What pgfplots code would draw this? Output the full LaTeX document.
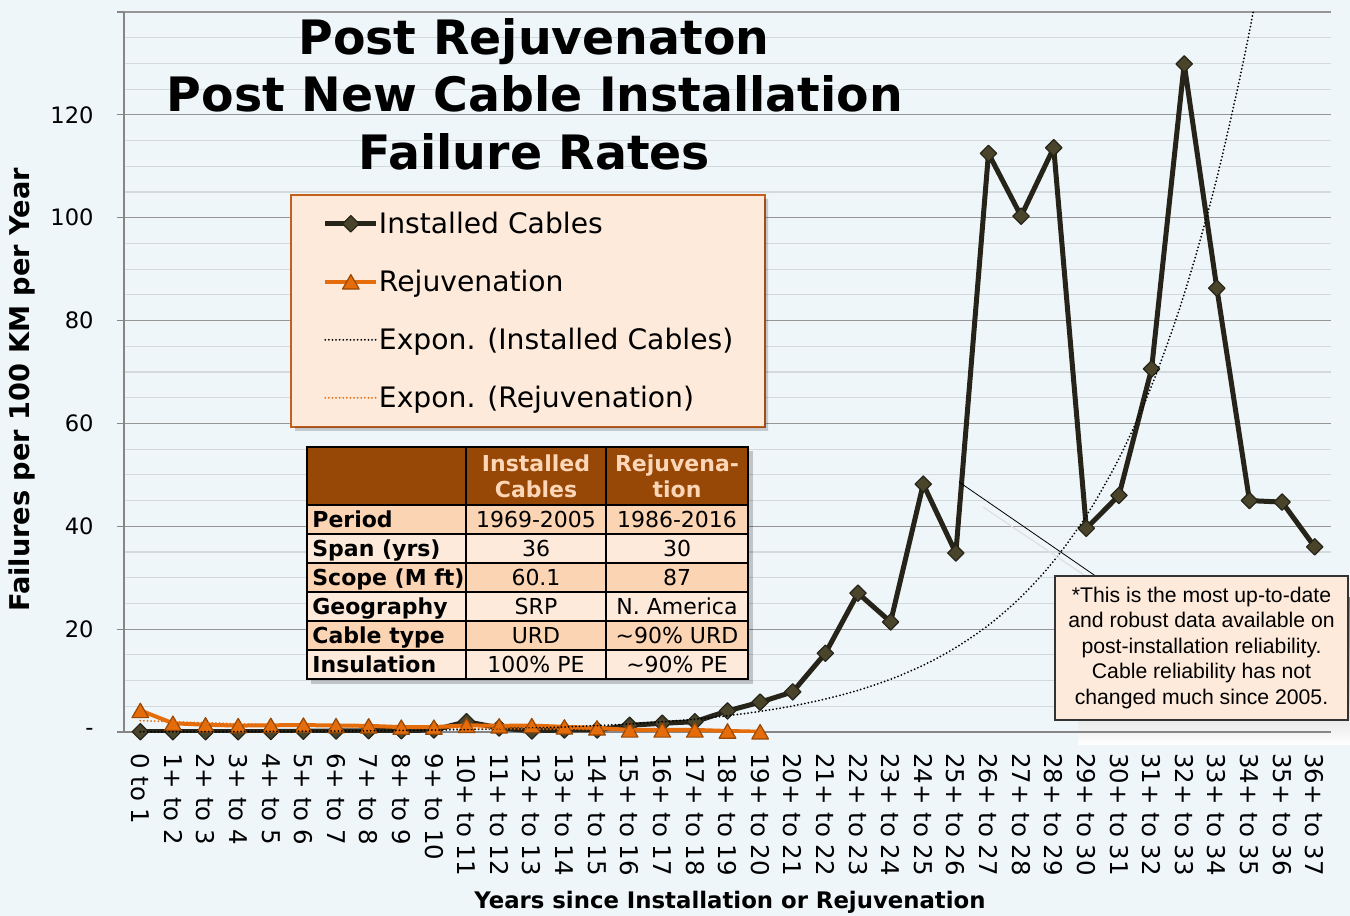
\documentclass[border=0pt]{standalone}
\usepackage{pgfplots}
\pgfplotsset{compat=1.18}
\usepackage{fontspec}
\setmainfont{DejaVu Sans}
\newfontfamily\arialfont{Liberation Sans}

\definecolor{bg}{RGB}{238,246,249}
\definecolor{gmaj}{RGB}{150,150,150}
\definecolor{gmin}{RGB}{212,217,220}
\definecolor{axgray}{RGB}{134,134,134}
\definecolor{instline}{RGB}{38,35,25}
\definecolor{instfill}{RGB}{73,68,42}
\definecolor{rejline}{RGB}{228,108,10}
\definecolor{rejdraw}{RGB}{152,72,6}
\definecolor{peach}{RGB}{253,234,218}
\definecolor{peachdark}{RGB}{251,212,180}
\definecolor{hdr}{RGB}{151,71,6}
\definecolor{hdrtext}{RGB}{252,214,182}
\definecolor{legborder}{RGB}{196,96,30}
\definecolor{shade}{RGB}{214,220,224}

\begin{document}
\begin{tikzpicture}
\path[use as bounding box, fill=bg] (0,0) rectangle (675pt,458pt);
\begin{scope}[x=0.5pt,y=-0.5pt,shift={(0pt,458pt)}]
\fill[shade] (1078,598) rectangle (1350,745);
\end{scope}

\begin{axis}[
 at={(62pt,92pt)}, anchor=south west,
 scale only axis, width=603.5pt, height=360pt,
 xmin=-0.5, xmax=36.5, ymin=0, ymax=140,
 clip mode=individual,
 axis x line*=bottom, axis y line*=left,
 axis line style={draw=axgray, line width=0.6pt},
 xtick={0,...,36},
 xticklabels={{0 to 1},{1+ to 2},{2+ to 3},{3+ to 4},{4+ to 5},{5+ to 6},{6+ to 7},{7+ to 8},{8+ to 9},{9+ to 10},{10+ to 11},{11+ to 12},{12+ to 13},{13+ to 14},{14+ to 15},{15+ to 16},{16+ to 17},{17+ to 18},{18+ to 19},{19+ to 20},{20+ to 21},{21+ to 22},{22+ to 23},{23+ to 24},{24+ to 25},{25+ to 26},{26+ to 27},{27+ to 28},{28+ to 29},{29+ to 30},{30+ to 31},{31+ to 32},{32+ to 33},{33+ to 34},{34+ to 35},{35+ to 36},{36+ to 37}},
 xtick style={draw=none},
 xticklabel style={rotate=-90, anchor=west, inner sep=0pt, font=\fontsize{12.2}{14}\selectfont},
 xticklabel shift=7pt,
 ytick={0,20,...,140},
 yticklabels={-,20,40,60,80,100,120,{}},
 ytick style={draw=axgray, line width=0.6pt},
 tick align=outside,
 major tick length=3.5pt,
 minor tick length=0pt,
 minor y tick num=3,
 ymajorgrids, yminorgrids,
 major grid style={draw=gmaj, line width=0.6pt},
 minor grid style={draw=gmin, line width=0.6pt},
 yticklabel style={anchor=east, inner sep=0pt, font=\fontsize{11.3}{13}\selectfont},
 yticklabel shift=11.5pt,
 legend cell align=left,
 legend style={
   at={(0.1375,0.7472)}, anchor=north west,
   fill=peach, draw=legborder, line width=0.8pt,
   inner xsep=16pt, inner ysep=7.5pt,
   row sep=15pt, column sep=0pt,
   font=\fontsize{14.1}{17}\selectfont,
   nodes={inner sep=0pt, text height=12pt, text depth=2pt},
 },
 legend image code/.code={\draw[mark repeat=2,mark phase=2,#1] plot coordinates {(0pt,0pt) (12.8pt,0pt) (25.6pt,0pt)};},
]
\addplot[color=instline, line width=2.5pt, line join=round, mark=square*, mark size=2.9pt,
  mark options={rotate=45, fill=instfill, draw=instline, line width=0.6pt}]
 coordinates {(0,0.05)(1,0.05)(2,0.05)(3,0.05)(4,0.1)(5,0.15)(6,0.2)(7,0.25)(8,0.25)(9,0.4)(10,2.0)(11,0.8)(12,0.2)(13,0.4)(14,0.4)(15,1.3)(16,1.7)(17,2.0)(18,4.1)(19,5.8)(20,7.8)(21,15.3)(22,27.0)(23,21.4)(24,48.2)(25,34.8)(26,112.5)(27,100.3)(28,113.6)(29,39.6)(30,46.0)(31,70.6)(32,129.9)(33,86.3)(34,45.0)(35,44.7)(36,36.0)};
\addlegendentry{Installed Cables}
\addplot[color=rejline, line width=2pt, line join=round, mark=triangle*, mark size=4.8pt,
  mark options={fill=rejline, draw=rejdraw, line width=0.6pt, yshift=-1.2pt}]
 coordinates {(0,4.2)(1,1.7)(2,1.4)(3,1.25)(4,1.3)(5,1.35)(6,1.25)(7,1.2)(8,0.95)(9,0.95)(10,1.3)(11,1.2)(12,1.25)(13,1.0)(14,0.8)(15,0.4)(16,0.4)(17,0.4)(18,0.2)(19,0.05)};
\addlegendentry{Rejuvenation}
\addplot[color=black, line width=1pt, dash pattern=on 0pt off 1.8pt, line cap=round, smooth]
 coordinates {(0,0.046)(1,0.058)(2,0.074)(3,0.093)(4,0.118)(5,0.149)(6,0.188)(7,0.238)(8,0.302)(9,0.382)(10,0.483)(11,0.611)(12,0.772)(13,0.977)(14,1.236)(15,1.564)(16,1.978)(17,2.50)(18,3.17)(19,4.01)(20,5.07)(21,6.41)(22,8.11)(23,10.26)(24,12.98)(25,16.42)(26,20.77)(27,26.27)(28,33.24)(29,42.05)(30,53.19)(31,67.29)(32,85.13)(33,107.7)(34,136.2)(35,172.3)};
\addlegendentry{Expon. (Installed Cables)}
\addplot[color=rejline, line width=1pt, dash pattern=on 0pt off 1.8pt, line cap=round, smooth]
 coordinates {(0,2.2)(1,2.0)(2,1.8)(3,1.6)(4,1.4)(5,1.3)(6,1.1)(7,1.0)(8,0.9)(9,0.82)(10,0.73)(11,0.65)(12,0.59)(13,0.53)(14,0.47)(15,0.42)(16,0.38)(17,0.34)(18,0.30)(19,0.27)};
\addlegendentry{Expon. (Rejuvenation)}
\end{axis}

\begin{scope}[x=0.5pt,y=-0.5pt,shift={(0pt,458pt)}]
% legend shadow strips
\fill[black, opacity=0.18] (764,199) rectangle (768,431) (295,427) rectangle (764,431);
% title
\begin{scope}[every node/.style={font=\fontsize{23.7}{28}\selectfont\bfseries, anchor=base, inner sep=0pt}]
\node at (534,55) {Post Rejuvenaton};
\node at (535,112) {Post New Cable Installation};
\node at (534.5,170) {Failure Rates};
\end{scope}
% axis labels
\node[rotate=90, font=\fontsize{13.6}{16}\selectfont\bfseries] at (22,390) {Failures per 100 KM per Year};
\node[anchor=base, inner sep=0pt, font=\fontsize{11.4}{14}\selectfont\bfseries] at (730,909) {Years since Installation or Rejuvenation};
% table
\fill[black, opacity=0.2] (311,451) rectangle (753,684);
\fill[hdr] (307,447) rectangle (748,505);
\fill[peachdark] (307,505) rectangle (748,534);
\fill[peach] (307,534) rectangle (748,563);
\fill[peachdark] (307,563) rectangle (748,592);
\fill[peach] (307,592) rectangle (748,621);
\fill[peachdark] (307,621) rectangle (748,650);
\fill[peach] (307,650) rectangle (748,679);
\draw[black, line width=0.6pt] (307,447) rectangle (748,679);
\foreach \yy in {505,534,563,592,621,650} \draw[black, line width=0.6pt] (307,\yy) -- (748,\yy);
\draw[black, line width=0.6pt] (466,447) -- (466,679) (606,447) -- (606,679);
\node[align=center, text=hdrtext, font=\fontsize{11}{13}\selectfont\bfseries] at (536,476) {Installed\\Cables};
\node[align=center, text=hdrtext, font=\fontsize{11}{13}\selectfont\bfseries] at (677,476) {Rejuvena-\\tion};
\begin{scope}[every node/.style={anchor=base, inner sep=0pt, font=\fontsize{11}{13}\selectfont}]
\node[anchor=base west, font=\fontsize{11}{13}\selectfont\bfseries] at (312,528) {Period};
\node[anchor=base west, font=\fontsize{11}{13}\selectfont\bfseries] at (312,557) {Span (yrs)};
\node[anchor=base west, font=\fontsize{11}{13}\selectfont\bfseries] at (312,586) {Scope (M ft)};
\node[anchor=base west, font=\fontsize{11}{13}\selectfont\bfseries] at (312,615) {Geography};
\node[anchor=base west, font=\fontsize{11}{13}\selectfont\bfseries] at (312,644) {Cable type};
\node[anchor=base west, font=\fontsize{11}{13}\selectfont\bfseries] at (312,673) {Insulation};
\node at (536,528) {1969-2005};
\node at (536,557) {36};
\node at (536,586) {60.1};
\node at (536,615) {SRP};
\node at (536,644) {URD};
\node at (536,673) {100\% PE};
\node at (677,528) {1986-2016};
\node at (677,557) {30};
\node at (677,586) {87};
\node at (677,615) {N. America};
\node at (677,644) {\textasciitilde 90\% URD};
\node at (677,673) {\textasciitilde 90\% PE};
\end{scope}
% callout
\draw[gray!25, line width=0.6pt] (983,507) -- (1087,577);
\draw[black, line width=0.4pt] (959,482) -- (1097,577);
\fill[peach] (1055,576) rectangle (1348,720);
\draw[black!80, line width=0.6pt] (1055,576) rectangle (1348,720);
\node[align=center, inner sep=0pt, font=\arialfont\fontsize{10.6}{12.75}\selectfont] at (1201.5,648)
 {*This is the most up-to-date\\and robust data available on\\post-installation reliability.\\Cable reliability has not\\changed much since 2005.};
\end{scope}
\end{tikzpicture}
\end{document}
